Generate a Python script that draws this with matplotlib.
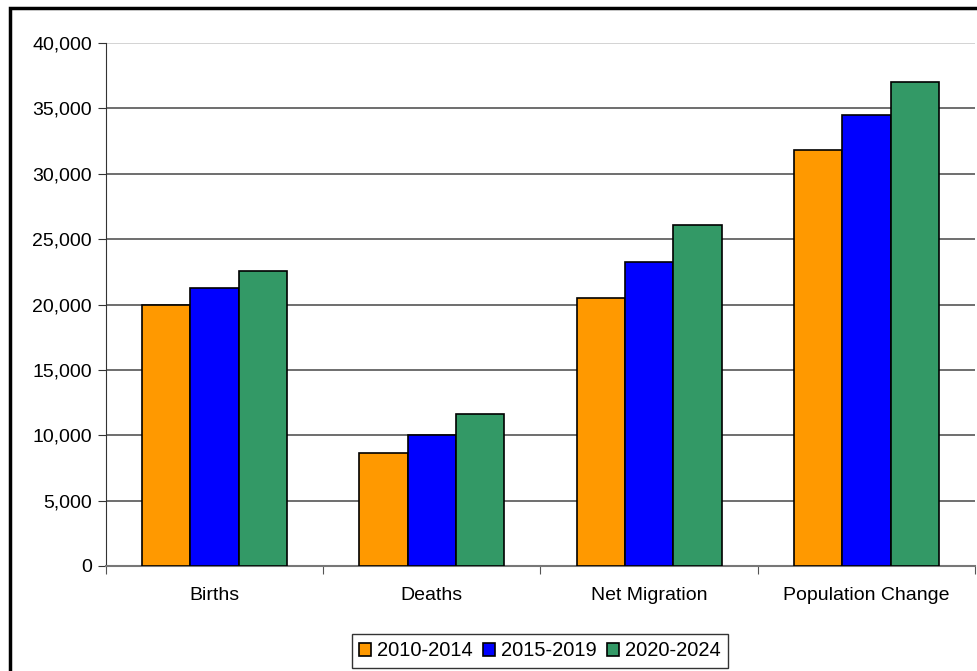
import matplotlib.pyplot as plt
import numpy as np
from matplotlib.patches import Rectangle

categories = ["Births", "Deaths", "Net Migration", "Population Change"]
periods = ["2010-2014", "2015-2019", "2020-2024"]
values_2010 = [20000, 8650, 20500, 31850]
values_2015 = [21250, 10000, 23250, 34500]
values_2020 = [22600, 11600, 26050, 37050]
colors = ["#FF9900", "#0000FF", "#339966"]

plt.rcParams["font.family"] = ["Liberation Sans", "DejaVu Sans"]
plt.rcParams["font.size"] = 14

fig = plt.figure(figsize=(9.78, 6.71), dpi=100)
W, H = 978, 671
ax = fig.add_axes([106 / W, 1 - 566 / H, (975 - 106) / W, (566 - 43) / H])

# outer frame around the chart
fig.patches.append(Rectangle((10 / W, -0.05), 1.2, 1 - 8 / H + 0.05, transform=fig.transFigure,
                             fill=False, edgecolor="black", linewidth=2.5))

x = np.arange(len(categories))
width = 1 / 4.5
series = [values_2010, values_2015, values_2020]
for i, vals in enumerate(series):
    ax.bar(x + (i - 1) * width, vals, width, color=colors[i], edgecolor="black",
           linewidth=1.2, label=periods[i], zorder=3)

ax.set_xlim(-0.5, len(categories) - 0.5)
ax.set_ylim(0, 40000)
ax.set_yticks(np.arange(0, 40001, 5000))
ax.set_yticklabels([f"{v:,}" for v in range(0, 40001, 5000)])
ax.yaxis.grid(True, color="#555555", linewidth=1.2, zorder=0)
ax.set_axisbelow(True)
ax.get_ygridlines()[-1].set_color("#cccccc")

ax.set_xticks(np.arange(-0.5, len(categories), 1.0))
ax.set_xticklabels([])
ax.set_xticks(x, minor=True)
ax.set_xticklabels(categories, minor=True)
ax.tick_params(axis="x", which="major", length=6, color="#555555", direction="out")
ax.tick_params(axis="x", which="minor", length=0, pad=15)
ax.tick_params(axis="y", length=6, color="#333333", pad=4)

for side in ["top", "right"]:
    ax.spines[side].set_visible(False)
ax.spines["left"].set_color("#333333")
ax.spines["bottom"].set_color("#777777")
ax.spines["bottom"].set_linewidth(1.5)

leg = ax.legend(loc="center", bbox_to_anchor=(540 / W, 1 - 651 / H), bbox_transform=fig.transFigure,
                ncol=3, frameon=True, fancybox=False, edgecolor="black", handlelength=0.6,
                handleheight=0.6, handletextpad=0.3, columnspacing=0.5, borderpad=0.35,
                fontsize=14.5)
leg.get_frame().set_linewidth(1.0)

fig.savefig("out.png", dpi=100)
